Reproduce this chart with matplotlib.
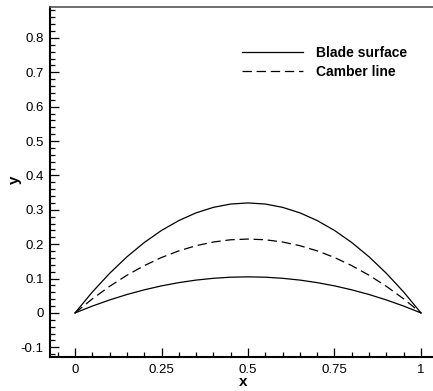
import matplotlib
matplotlib.use("Agg")
import matplotlib.pyplot as plt
from matplotlib.ticker import MultipleLocator

plt.rcParams['font.family'] = ['Liberation Sans', 'DejaVu Sans']

x_vals = [0.0, 0.05, 0.1, 0.15, 0.2, 0.25, 0.3, 0.35, 0.4, 0.45, 0.5,
          0.55, 0.6, 0.65, 0.7, 0.75, 0.8, 0.85, 0.9, 0.95, 1.0]
upper = [0.0, 0.0608, 0.1152, 0.1632, 0.2048, 0.24, 0.2688, 0.2912, 0.3072, 0.3168, 0.32,
         0.3168, 0.3072, 0.2912, 0.2688, 0.24, 0.2048, 0.1632, 0.1152, 0.0608, 0.0]
lower = [0.0, 0.02, 0.0378, 0.0536, 0.0672, 0.0788, 0.0882, 0.0956, 0.1008, 0.104, 0.105,
         0.104, 0.1008, 0.0956, 0.0882, 0.0788, 0.0672, 0.0536, 0.0378, 0.02, 0.0]
camber = [0.0, 0.0409, 0.0774, 0.1097, 0.1376, 0.1613, 0.1806, 0.1957, 0.2064, 0.2129, 0.215,
          0.2129, 0.2064, 0.1957, 0.1806, 0.1613, 0.1376, 0.1097, 0.0774, 0.0409, 0.0]

fig = plt.figure(figsize=(4.33, 3.91), dpi=100)
ax = fig.add_axes([50/433, 1-357.3/391, 1-50/433, (357.3-7)/391])

ax.plot(x_vals, upper, color='black', lw=0.9, label='Blade surface')
ax.plot(x_vals, lower, color='black', lw=0.9)
ax.plot(x_vals, camber, color='black', lw=0.9, dashes=(7.5, 3.8), label='Camber line')

ax.set_xlim(-0.0723, 1.0347)
ax.set_ylim(-0.129, 0.89)

ax.xaxis.set_minor_locator(MultipleLocator(0.05))
ax.yaxis.set_minor_locator(MultipleLocator(0.02))
ax.set_xticks([0, 0.25, 0.5, 0.75, 1])
ax.set_xticklabels(['0', '0.25', '0.5', '0.75', '1'])
yt = [-0.1, 0, 0.1, 0.2, 0.3, 0.4, 0.5, 0.6, 0.7, 0.8]
ax.set_yticks(yt)
ax.set_yticklabels(['-0.1', '0', '0.1', '0.2', '0.3', '0.4', '0.5', '0.6', '0.7', '0.8'])

ax.tick_params(which='major', direction='in', length=6.5, width=0.9, labelsize=9.5, pad=4.5,
               top=False, right=False)
ax.tick_params(which='minor', direction='in', length=3.6, width=0.9, top=False, right=False)

ax.spines['right'].set_visible(False)
ax.spines['left'].set_linewidth(1.5)
ax.spines['bottom'].set_linewidth(1.5)
ax.spines['top'].set_linewidth(1.2)
ax.spines['top'].set_color('#555555')

fig.text(243/433, 1-382/391, 'x', ha='center', va='center', fontsize=11, fontweight='bold')
fig.text(15/433, 1-180/391, 'y', ha='center', va='center', fontsize=11, fontweight='bold', rotation=90)

leg = ax.legend(loc='upper left', bbox_to_anchor=(239/433, 1-43/391), bbox_transform=fig.transFigure,
                frameon=False, handlelength=4.4, handletextpad=0.93, labelspacing=0.35,
                borderaxespad=0, borderpad=0.2,
                prop={'size': 10, 'weight': 'bold'})

fig.savefig('out.png', dpi=100)
